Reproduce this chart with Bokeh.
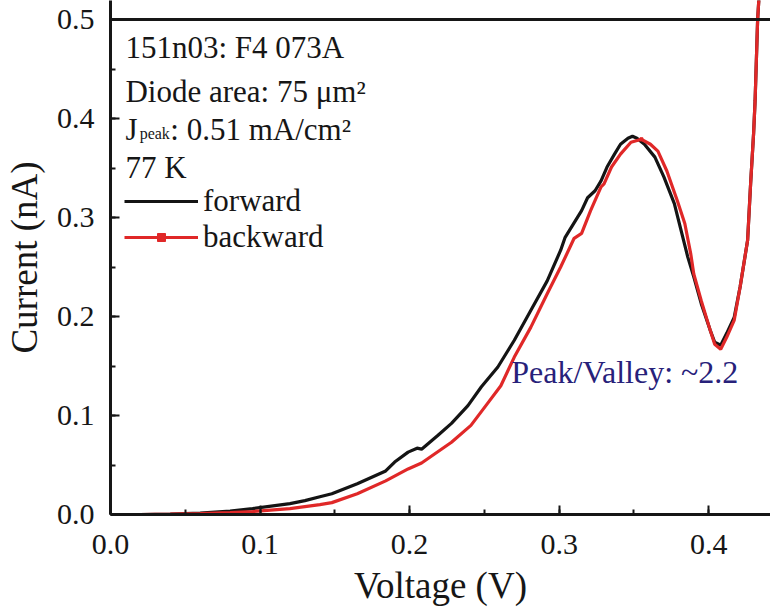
from bokeh.plotting import figure
from bokeh.models import (ColumnDataSource, Range1d, Span, Label, Legend, LegendItem,
                          SingleIntervalTicker, PrintfTickFormatter, CDSView, IndexFilter)
from bokeh.embed import file_html
from bokeh.resources import INLINE

# ---- data ----
forward_voltage = [0.0, 0.02, 0.04, 0.06, 0.08, 0.095, 0.12, 0.13, 0.14, 0.148, 0.165, 0.184,
                   0.19, 0.199, 0.205, 0.208, 0.219, 0.228, 0.239, 0.248, 0.259, 0.270, 0.281,
                   0.292, 0.301, 0.304, 0.315, 0.319, 0.324, 0.328, 0.332, 0.337, 0.341,
                   0.346, 0.349, 0.352, 0.357, 0.364, 0.370, 0.377, 0.381, 0.386, 0.390,
                   0.395, 0.401, 0.404, 0.408, 0.412, 0.417, 0.421, 0.426, 0.428, 0.430,
                   0.431, 0.4327, 0.4335]
forward_current = [0.0, 0.0, 0.0005, 0.0015, 0.0035, 0.006, 0.011, 0.014, 0.018, 0.021, 0.031,
                   0.044, 0.053, 0.063, 0.067, 0.066, 0.080, 0.092, 0.110, 0.129, 0.149, 0.176,
                   0.206, 0.236, 0.267, 0.280, 0.307, 0.320, 0.327, 0.337, 0.351, 0.364, 0.374,
                   0.380, 0.382, 0.380, 0.374, 0.361, 0.341, 0.314, 0.290, 0.260, 0.240,
                   0.213, 0.186, 0.174, 0.171, 0.183, 0.199, 0.230, 0.277, 0.334, 0.385,
                   0.418, 0.50, 0.52]

backward_voltage = [0.0, 0.02, 0.04, 0.06, 0.08, 0.095, 0.12, 0.13, 0.14, 0.148, 0.165, 0.184,
                    0.199, 0.208, 0.228, 0.241, 0.252, 0.261, 0.270, 0.281, 0.292, 0.301, 0.310,
                    0.315, 0.321, 0.328, 0.330, 0.335, 0.341, 0.348, 0.355, 0.361, 0.366,
                    0.372, 0.379, 0.384, 0.388, 0.390, 0.395, 0.401, 0.404, 0.408, 0.412,
                    0.417, 0.421, 0.426, 0.428, 0.430, 0.431, 0.4327, 0.4335]
backward_current = [0.0, 0.0, 0.0003, 0.001, 0.002, 0.003, 0.006, 0.008, 0.010, 0.012, 0.021,
                    0.034, 0.046, 0.052, 0.073, 0.090, 0.112, 0.130, 0.159, 0.189, 0.223, 0.250,
                    0.279, 0.284, 0.307, 0.331, 0.334, 0.351, 0.364, 0.376, 0.379, 0.374, 0.367,
                    0.347, 0.317, 0.294, 0.263, 0.243, 0.216, 0.186, 0.172, 0.167, 0.179,
                    0.196, 0.230, 0.277, 0.334, 0.385, 0.418, 0.50, 0.52]

x_tick_step = 0.1
y_tick_step = 0.1

FONT = "Liberation Serif"
INK = "#161616"
RED = "#e02828"

p = figure(width=770, height=608, output_backend="svg", toolbar_location=None,
           x_range=Range1d(0.0, 0.4413), y_range=Range1d(0.0, 0.5192),
           min_border_left=108, min_border_right=0, min_border_top=0, min_border_bottom=94,
           background_fill_color="white", border_fill_color="white")
p.outline_line_color = None
p.xgrid.visible = False
p.ygrid.visible = False

fwd = ColumnDataSource(dict(v=forward_voltage, i=forward_current))
bwd = ColumnDataSource(dict(v=backward_voltage, i=backward_current))

r_fwd = p.line("v", "i", source=fwd, line_color="#141414", line_width=3.2)
r_bwd = p.line("v", "i", source=bwd, line_color=RED, line_width=3.2)
# square symbol of the backward series (one point lying on the curve, used by the legend)
r_bwd_mark = p.scatter("v", "i", source=bwd, view=CDSView(filter=IndexFilter(indices=[30])),
                       marker="square", size=3, fill_color=RED, line_color=RED)

# top frame line
p.add_layout(Span(location=0.5, dimension="width", line_color=INK, line_width=3))

for ax, step in ((p.xaxis[0], x_tick_step), (p.yaxis[0], y_tick_step)):
    ax.ticker = SingleIntervalTicker(interval=step, num_minor_ticks=2)
    ax.formatter = PrintfTickFormatter(format="%.1f")
    ax.axis_line_width = 3
    ax.axis_line_color = INK
    ax.major_tick_line_color = INK
    ax.minor_tick_line_color = INK
    ax.major_tick_line_width = 2
    ax.minor_tick_line_width = 2
    ax.major_tick_in = 9
    ax.major_tick_out = 0
    ax.minor_tick_in = 5
    ax.minor_tick_out = 0
    ax.major_label_text_font = FONT
    ax.major_label_text_font_size = "30px"
    ax.major_label_text_color = INK
    ax.axis_label_text_font = FONT
    ax.axis_label_text_font_size = "37px"
    ax.axis_label_text_font_style = "normal"
    ax.axis_label_text_color = INK

p.xaxis.axis_label = "Voltage (V)"
p.yaxis.axis_label = "Current (nA)"
p.xaxis.major_label_standoff = 20
p.yaxis.major_label_standoff = 16
p.xaxis.axis_label_standoff = 8
p.yaxis.axis_label_standoff = 9

def lab(x, y, text, size, color=INK):
    p.add_layout(Label(x=x, y=y, text=text, text_font=FONT, text_font_size=size,
                       text_color=color, text_baseline="alphabetic", text_align="left"))

lab(0.0100, 0.4722, "151n03: F4 073A", "31px")
lab(0.0100, 0.4268, "Diode area: 75 \u03bcm\u00b2", "31px")
lab(0.0100, 0.3894, "J", "31px")
lab(0.0195, 0.3853, "peak", "16px")
lab(0.0400, 0.3894, ": 0.51 mA/cm\u00b2", "31px")
lab(0.0100, 0.3510, "77 K", "31px")
lab(0.2680, 0.1440, "Peak/Valley: ~2.2", "32px", color="#27217a")

legend = Legend(items=[LegendItem(label="forward", renderers=[r_fwd]),
                       LegendItem(label="backward", renderers=[r_bwd, r_bwd_mark])],
                location=(14, 259), orientation="vertical",
                background_fill_alpha=0, border_line_color=None,
                label_text_font=FONT, label_text_font_size="31px", label_text_color=INK,
                glyph_width=74, glyph_height=20, label_height=35, label_standoff=5,
                spacing=0, padding=0, margin=0)
p.add_layout(legend)

open("out.html", "w").write(file_html(p, INLINE))
